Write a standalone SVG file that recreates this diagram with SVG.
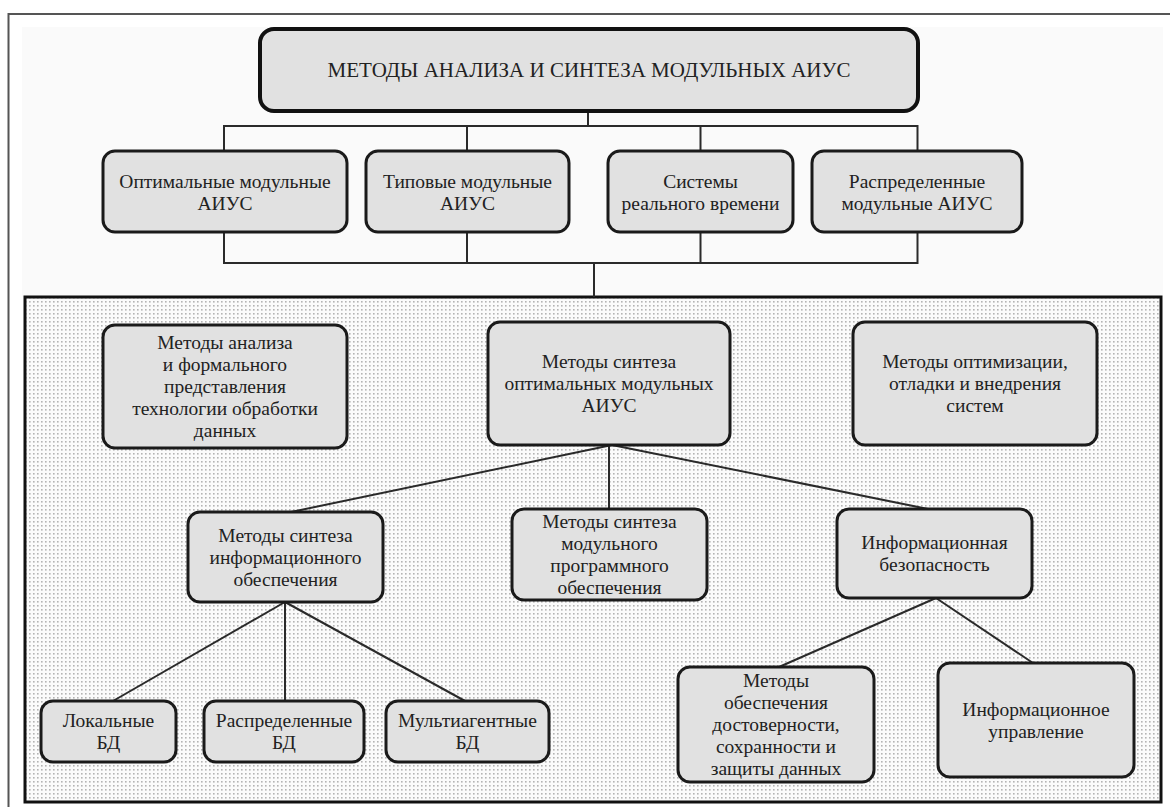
<svg xmlns="http://www.w3.org/2000/svg" width="1170" height="807" viewBox="0 0 1170 807">
<defs>
<pattern id="dots" x="0" y="0" width="4" height="4" patternUnits="userSpaceOnUse">
<rect width="4" height="4" fill="#fbfbfb"/>
<rect x="1" y="1" width="1.6" height="1.6" fill="#b4b4b4"/>
</pattern>
</defs>
<style>
.box{fill:#e1e1e1;stroke:#1a1a1a;stroke-width:3}
.top{fill:#e1e1e1;stroke:#111;stroke-width:4}
.ln{stroke:#2a2a2a;stroke-width:2;fill:none}
.t{font-family:'Liberation Serif','DejaVu Serif',serif;font-size:19.5px;fill:#222;text-anchor:middle}
.h{font-size:21px}
</style>
<rect x="0" y="0" width="1170" height="807" fill="#ffffff"/>
<rect x="22" y="27" width="1141" height="270" fill="#fafafa"/>
<rect id="frame" x="8.5" y="14" width="1180" height="820" fill="none" stroke="#555" stroke-width="2"/>
<rect id="panel" x="25" y="297" width="1136" height="505" fill="url(#dots)" stroke="#111" stroke-width="3"/>
<g id="connectors">
<polyline class="ln" points="588,111 588,126"/>
<polyline class="ln" points="224,151 224,126 917.5,126 917.5,151"/>
<polyline class="ln" points="467,126 467,151"/>
<polyline class="ln" points="700.5,126 700.5,151"/>
<polyline class="ln" points="224,232 224,263 917.5,263 917.5,232"/>
<polyline class="ln" points="467,232 467,263"/>
<polyline class="ln" points="700.5,232 700.5,263"/>
<polyline class="ln" points="594,263 594,297"/>
<line class="ln" x1="612" y1="445" x2="291" y2="512"/>
<line class="ln" x1="609" y1="445" x2="609" y2="509"/>
<line class="ln" x1="612" y1="445" x2="928" y2="509"/>
<line class="ln" x1="285" y1="602" x2="113" y2="701"/>
<line class="ln" x1="285" y1="602" x2="285" y2="701"/>
<line class="ln" x1="285" y1="602" x2="465" y2="701"/>
<line class="ln" x1="936" y1="598" x2="779" y2="667"/>
<line class="ln" x1="936" y1="598" x2="1033" y2="663"/>
</g>
<g class="t">
<g id="n-top"><rect class="top" x="260" y="29" width="658" height="82" rx="14"/><text class="h" x="589" y="77">МЕТОДЫ АНАЛИЗА И СИНТЕЗА МОДУЛЬНЫХ АИУС</text></g>
<g id="n-opt"><rect class="box" x="103" y="151" width="244" height="81" rx="12"/><text x="225" y="187.5">Оптимальные модульные</text><text x="225" y="209.5">АИУС</text></g>
<g id="n-typ"><rect class="box" x="366" y="151" width="203" height="81" rx="12"/><text x="467.5" y="187.5">Типовые модульные</text><text x="467.5" y="209.5">АИУС</text></g>
<g id="n-rt"><rect class="box" x="608" y="151" width="185" height="81" rx="12"/><text x="700.5" y="187.5">Системы</text><text x="700.5" y="209.5">реального времени</text></g>
<g id="n-dist"><rect class="box" x="812" y="151" width="210" height="81" rx="12"/><text x="917" y="187.5">Распределенные</text><text x="917" y="209.5">модульные АИУС</text></g>
<g id="n-anal"><rect class="box" x="103" y="325" width="244" height="123" rx="12"/><text x="225" y="349">Методы анализа</text><text x="225" y="371">и формального</text><text x="225" y="393">представления</text><text x="225" y="415">технологии обработки</text><text x="225" y="437">данных</text></g>
<g id="n-synth"><rect class="box" x="488" y="322" width="242" height="123" rx="12"/><text x="609" y="368">Методы синтеза</text><text x="609" y="390">оптимальных модульных</text><text x="609" y="412">АИУС</text></g>
<g id="n-optim"><rect class="box" x="853" y="322" width="244" height="123" rx="12"/><text x="975" y="368">Методы оптимизации,</text><text x="975" y="390">отладки и внедрения</text><text x="975" y="412">систем</text></g>
<g id="n-info"><rect class="box" x="188" y="512" width="195" height="90" rx="12"/><text x="285.5" y="541.5">Методы синтеза</text><text x="285.5" y="563.5">информационного</text><text x="285.5" y="585.5">обеспечения</text></g>
<g id="n-prog"><rect class="box" x="512" y="509" width="195" height="91" rx="12"/><text x="609.5" y="528">Методы синтеза</text><text x="609.5" y="550">модульного</text><text x="609.5" y="572">программного</text><text x="609.5" y="594">обеспечения</text></g>
<g id="n-sec"><rect class="box" x="837" y="509" width="195" height="89" rx="12"/><text x="934.5" y="549">Информационная</text><text x="934.5" y="571">безопасность</text></g>
<g id="n-local"><rect class="box" x="41" y="701" width="135" height="61" rx="12"/><text x="108.5" y="727">Локальные</text><text x="108.5" y="749">БД</text></g>
<g id="n-distdb"><rect class="box" x="204" y="701" width="160" height="61" rx="12"/><text x="284" y="727">Распределенные</text><text x="284" y="749">БД</text></g>
<g id="n-multi"><rect class="box" x="386" y="701" width="163" height="61" rx="12"/><text x="467.5" y="727">Мультиагентные</text><text x="467.5" y="749">БД</text></g>
<g id="n-rel"><rect class="box" x="678" y="667" width="196" height="115" rx="12"/><text x="776" y="687">Методы</text><text x="776" y="709">обеспечения</text><text x="776" y="731">достоверности,</text><text x="776" y="753">сохранности и</text><text x="776" y="775">защиты данных</text></g>
<g id="n-mgmt"><rect class="box" x="938" y="663" width="196" height="114" rx="12"/><text x="1036" y="715.5">Информационное</text><text x="1036" y="737.5">управление</text></g>
</g>
</svg>
